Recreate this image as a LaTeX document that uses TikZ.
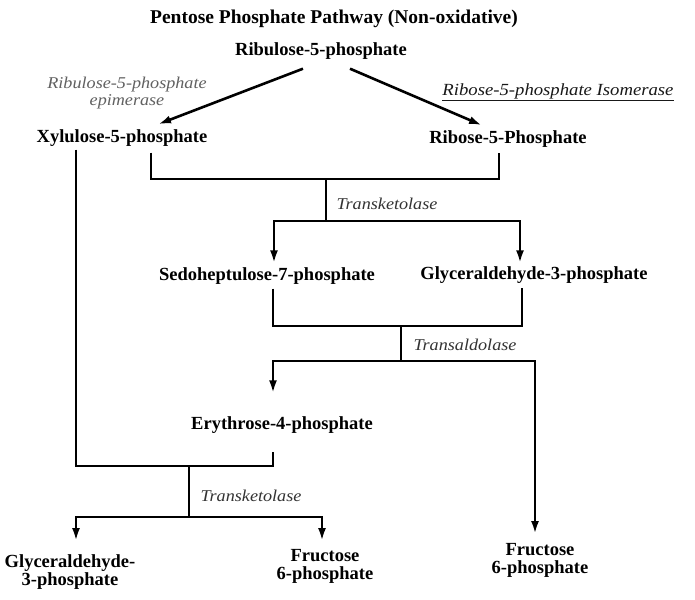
\documentclass[tikz,border=0pt]{standalone}
\usepackage{fontspec}
\setmainfont{Liberation Serif}
\newfontfamily\labfont{Liberation Serif Italic}[FakeStretch=1.1]
\usetikzlibrary{arrows.meta,calc}
\begin{document}
\begin{tikzpicture}[x=1pt,y=-1pt,
  chem/.style={font=\fontsize{18.5}{18}\selectfont\bfseries, inner sep=0pt, text height=13pt, text depth=4pt},
  chemml/.style={font=\fontsize{18.5}{18}\selectfont\bfseries, inner sep=0pt, align=center, anchor=north},
  enz/.style={font=\labfont\fontsize{16.5}{17}\selectfont, text=black!80, inner sep=0pt},
  ttl/.style={font=\fontsize{19.5}{22}\selectfont\bfseries, inner sep=0pt},
  link/.style={line width=2.6pt, line cap=butt, line join=miter},
  arr/.style={link, -{Latex[length=13pt,width=8pt]}},
]
\fill[white] (0,0) rectangle (695,599);
\useasboundingbox (0,0) rectangle (695,599);

\node[ttl] (title) at (334,19) {Pentose Phosphate Pathway (Non-oxidative)};
\node[chem] (rib) at (321,51) {Ribulose-5-phosphate};
\node[enz, align=center, text=black!62] (epi) at (127,93) {Ribulose-5-phosphate\\epimerase};
\node[enz, text=black!90, font=\labfont\fontsize{17}{17}\selectfont] (iso) at (558,92) {\underline{Ribose-5-phosphate Isomerase}};
\node[chem] (xyl) at (122,138) {Xylulose-5-phosphate};
\node[chem] (r5p) at (508,139) {Ribose-5-Phosphate};
\node[enz] (tk1) at (387,204) {Transketolase};
\node[chem] (s7p) at (267,276) {Sedoheptulose-7-phosphate};
\node[chem] (g3p) at (534,275) {Glyceraldehyde-3-phosphate};
\node[enz] (ta) at (465,345) {Transaldolase};
\node[chem] (e4p) at (282,425) {Erythrose-4-phosphate};
\node[enz] (tk2) at (251,496) {Transketolase};
\node[chemml] (g3pb) at (70,554) {Glyceraldehyde-\\3-phosphate};
\node[chemml] (f6pa) at (325,549) {Fructose\\6-phosphate};
\node[chemml] (f6pb) at (540,543) {Fructose\\6-phosphate};

\coordinate (j1) at (326,179);
\coordinate (s1) at (326,221);
\coordinate (j2) at (401,326);
\coordinate (s2) at (401,361);
\coordinate (j3) at (189,466);
\coordinate (s3) at (189,517);

\draw[arr] ([shift={(-18,9)}]rib.south) -- ([shift={(36,-5)}]xyl.north);
\draw[arr] ([shift={(29,9)}]rib.south) -- ([shift={(-26,-5)}]r5p.north);

\draw[link] ([shift={(29,6)}]xyl.south) |- (j1) -| ([shift={(-9,5)}]r5p.south);
\draw[link] (j1) -- (s1);
\draw[arr] (s1) -| ([shift={(7,-4)}]s7p.north);
\draw[arr] (s1) -| ([shift={(-14,-3)}]g3p.north);

\draw[link] ([shift={(6,4)}]s7p.south) |- (j2) -| ([shift={(-12,4)}]g3p.south);
\draw[link] (j2) -- (s2);
\draw[arr] (s2) -| ([shift={(-9,-23)}]e4p.north);
\draw[arr] (s2) -| ([shift={(-5,-9)}]f6pb.north);

\draw[link] ([shift={(-46,3)}]xyl.south) |- (j3) -| ([shift={(-9,18)}]e4p.south);
\draw[link] (j3) -- (s3);
\draw[arr] (s3) -| ([shift={(6,-13)}]g3pb.north);
\draw[arr] (s3) -| ([shift={(-3,-8)}]f6pa.north);
\end{tikzpicture}
\end{document}
